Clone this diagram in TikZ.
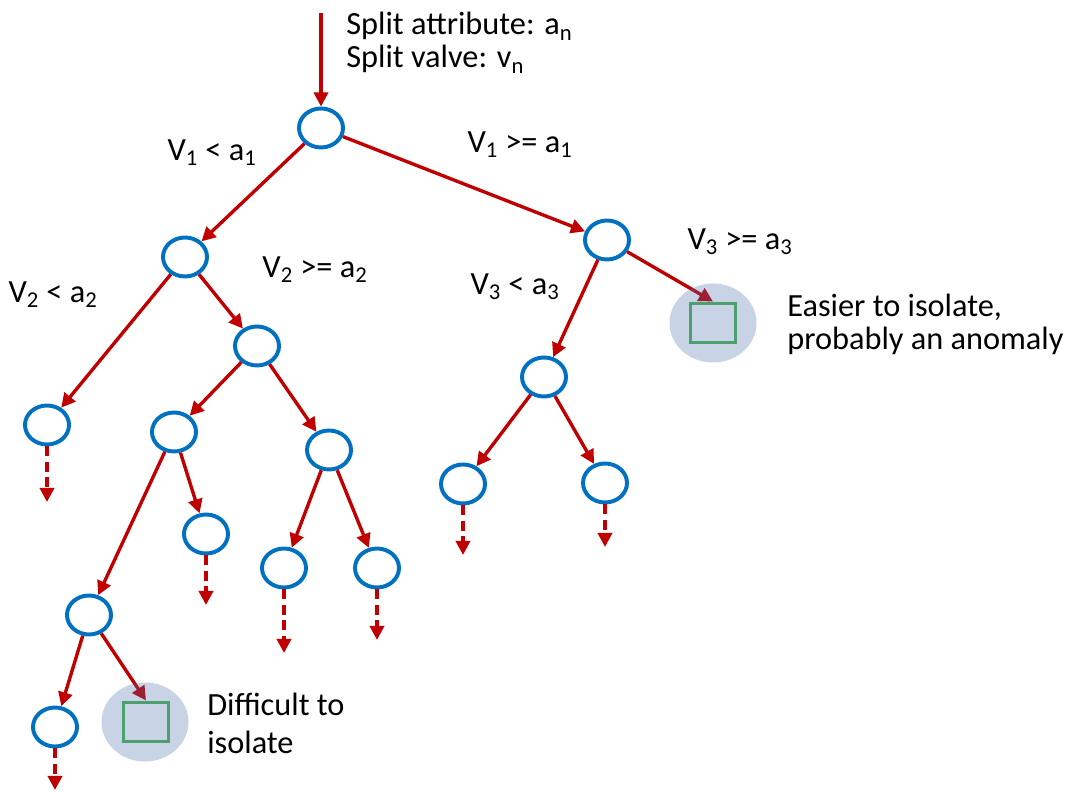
\documentclass[tikz,border=0pt]{standalone}
\usepackage{fontspec}
\setmainfont{Carlito}
\usetikzlibrary{arrows.meta,shapes.geometric}
\definecolor{Branch}{HTML}{C00000}
\definecolor{Ring}{HTML}{0070C0}
\definecolor{Leaf}{HTML}{4FB653}
\definecolor{Shade}{HTML}{4B6CAC}
\tikzset{
  >={Triangle[length=10pt,width=10pt]},
  nd/.style={ellipse,draw=Ring,line width=2.8pt,fill=white,minimum width=1.1cm,minimum height=.975cm,inner sep=0pt},
  branch/.style={->,line width=2.4pt,draw=Branch},
  cont/.style={branch,line width=2.8pt,dash pattern=on 7pt off 4pt},
  lab/.style={font=\fontsize{23}{23.5}\selectfont,inner sep=0pt},
  note/.style={lab,align=left,anchor=base west},
  leafbox/.style={draw=Leaf,line width=2.8pt,minimum width=1.125cm,minimum height=.975cm,inner sep=0pt},
  halo/.style={ellipse,fill=Shade,fill opacity=.3,minimum width=2.175cm,minimum height=1.975cm,inner sep=0pt}
}
\begin{document}
\begin{tikzpicture}[x=1cm,y=1cm]
  \useasboundingbox (0,0) rectangle (26.825,19.775);
  % tree nodes
  \node[nd] (root) at (8.025,16.575) {};
  \node[nd] (a) at (4.625,13.35) {};
  \node[nd] (b) at (15.175,13.775) {};
  \node[nd] (aL) at (1.175,9.15) {};
  \node[nd] (aR) at (6.425,11.125) {};
  \node[nd] (aRL) at (4.35,8.975) {};
  \node[nd] (aRR) at (8.225,8.525) {};
  \node[nd] (aRLL) at (2.225,4.4) {};
  \node[nd] (aRLR) at (5.15,6.425) {};
  \node[nd] (aRRL) at (7.1,5.575) {};
  \node[nd] (aRRR) at (9.425,5.575) {};
  \node[nd] (aRLLL) at (1.375,1.6) {};
  \node[nd] (bL) at (13.6,10.35) {};
  \node[nd] (bLL) at (11.575,7.675) {};
  \node[nd] (bLR) at (15.125,7.7) {};
  \node[leafbox] (hard) at (3.65,1.725) {};
  \node[leafbox] (easy) at (17.825,11.7) {};
  % free ends
  \coordinate (in) at (8.025,19.45);
  \coordinate (eL) at (1.175,7.225);
  \coordinate (eRLR) at (5.15,4.65);
  \coordinate (eRRL) at (7.1,3.45);
  \coordinate (eRRR) at (9.425,3.775);
  \coordinate (eRLLL) at (1.375,0.025);
  \coordinate (eBLL) at (11.575,5.9);
  \coordinate (eBLR) at (15.125,6.1);
  % branches
  \draw[branch] (in) -- (root);
  \draw[branch] (root) -- (a);
  \draw[branch] (root) -- (b);
  \draw[branch] (a) -- (aL);
  \draw[branch] (a) -- (aR);
  \draw[branch] (aR) -- (aRL);
  \draw[branch] (aR) -- (aRR);
  \draw[branch] (aRL) -- (aRLL);
  \draw[branch] (aRL) -- (aRLR);
  \draw[branch] (aRR) -- (aRRL);
  \draw[branch] (aRR) -- (aRRR);
  \draw[branch] (aRLL) -- (aRLLL);
  \draw[branch] (aRLL) -- (hard.north);
  \draw[branch] (b) -- (bL);
  \draw[branch] (b) -- (easy.north);
  \draw[branch] (bL) -- (bLL);
  \draw[branch] (bL) -- (bLR);
  % subtrees not shown
  \draw[cont] (aL) -- (eL);
  \draw[cont] (aRLR) -- (eRLR);
  \draw[cont] (aRRL) -- (eRRL);
  \draw[cont] (aRRR) -- (eRRR);
  \draw[cont] (aRLLL) -- (eRLLL);
  \draw[cont] (bLL) -- (eBLL);
  \draw[cont] (bLR) -- (eBLR);
  % isolated points
  \node[halo] (hardhalo) at (3.625,1.725) {};
  \node[halo] (easyhalo) at (easy) {};
  % labels (base = last line)
  \node[note,font=\fontsize{23}{23.5}\selectfont] (split) at (8.65,18.075) {Split attribute: a\textsubscript{n}\\Split valve: v\textsubscript{n}};
  \node[lab] (lv1) at (5.3,15.95) {V\textsubscript{1} < a\textsubscript{1}};
  \node[lab] (rv1) at (13.0,16.15) {V\textsubscript{1} >= a\textsubscript{1}};
  \node[lab] (lv2) at (1.325,12.4) {V\textsubscript{2} < a\textsubscript{2}};
  \node[lab] (rv2) at (7.875,13.025) {V\textsubscript{2} >= a\textsubscript{2}};
  \node[lab] (lv3) at (12.875,12.6) {V\textsubscript{3} < a\textsubscript{3}};
  \node[lab] (rv3) at (18.5,13.725) {V\textsubscript{3} >= a\textsubscript{3}};
  \node[note] (easynote) at (19.675,11.025) {Easier to isolate,\\probably an anomaly};
  \node[note,font=\fontsize{23}{27}\selectfont] (hardnote) at (5.175,0.95) {Difficult to\\isolate};
\end{tikzpicture}
\end{document}
